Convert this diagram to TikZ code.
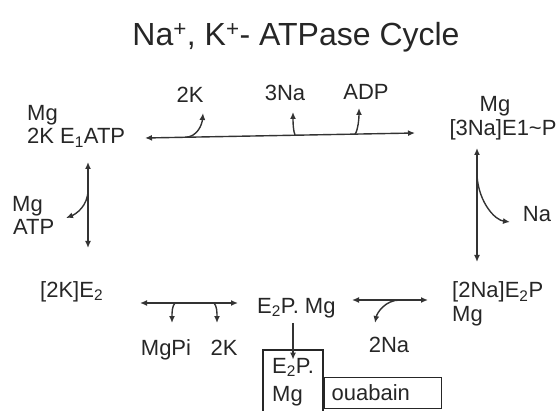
\documentclass[tikz,border=0pt]{standalone}
\usepackage{fontspec}
\setmainfont{Liberation Sans}
\usetikzlibrary{arrows.meta, fit}
\tikzset{
    species/.style={inner sep=0pt, text=black!85, font=\fontsize{22}{24}\selectfont},
    heading/.style={inner sep=0pt, text=black!85, font=\fontsize{32}{36}\selectfont},
    arrow/.style={line width=1.4pt, draw=black!80, -{Latex[length=7pt,width=6pt]}},
    twoway/.style={line width=1.4pt, draw=black!80, {Latex[length=7pt,width=6pt]}-{Latex[length=7pt,width=6pt]}},
    boxed/.style={draw=black!85, line width=2pt}
}

\begin{document}
\begin{tikzpicture}[x=1pt, y=-1pt]
        \useasboundingbox (0,0) rectangle (556,411);
        \node (title) [heading, anchor=base] at (296,46) {Na\textsuperscript{+}, K\textsuperscript{+}- ATPase Cycle};

        \node (mgtop) [species, anchor=base west] at (27,121) {Mg};
        \node (e1atp) [species, anchor=base west] at (27,144) {2K E\textsubscript{1}ATP};
        \node (mgright) [species, anchor=base] at (495,112) {Mg};
        \node (e1p) [species, anchor=base] at (503,136) {[3Na]E1\textasciitilde P};
        \node (ktop) [species, anchor=base] at (190,103) {2K};
        \node (na3) [species, anchor=base] at (285,101) {3Na};
        \node (adp) [species, anchor=base] at (366,100) {ADP};
        \node (naone) [species, anchor=base] at (537,222) {Na};
        \node (mgleft) [species, anchor=base west] at (12,212) {Mg};
        \node (atp) [species, anchor=base west] at (13,235) {ATP};
        \node (e2k) [species, anchor=base west] at (40,297) {[2K]E\textsubscript{2}};
        \node (mgpi) [species, anchor=base] at (166,355) {MgPi};
        \node (kbot) [species, anchor=base] at (224,355) {2K};
        \node (e2pmg) [species, anchor=base west] at (257,313) {E\textsubscript{2}P. Mg};
        \node (na2) [species, anchor=base] at (389,352) {2Na};
        \node (e2pna) [species, anchor=base west] at (452,298) {[2Na]E\textsubscript{2}P};
        \node (mgna) [species, anchor=base west] at (452,321) {Mg};

        \node (boxtop) [species, anchor=base west] at (272,373) {E\textsubscript{2}P.};
        \node (boxbot) [species, anchor=base west] at (272,401) {Mg};
        \node (boxe2p) [boxed, inner xsep=9pt, inner ysep=8pt, fit=(boxtop)(boxbot)] {};
        \node (ouabain) [species, draw=black!85, line width=1.2pt, anchor=north west, align=left, text width=103pt, inner xsep=7pt, minimum height=31pt] at (boxe2p.east |- 0,377) {ouabain};

        \coordinate (topL) at (145,138);
        \coordinate (topR) at (415,133);
        \path (topL) -- (topR) coordinate[pos=0.148] (bk) coordinate[pos=0.556] (bna) coordinate[pos=0.778] (badp);
        \coordinate (ktip) at (203,113);
        \coordinate (natip) at (293,112);
        \coordinate (adptip) at (359,108);
        \draw [twoway] (topL) -- (topR);
        \draw [arrow] (bk) .. controls +(12,0) and +(-1,12) .. (ktip);
        \draw [arrow] (bna) .. controls +(-2,-4) and +(0,10) .. (natip);
        \draw [arrow] (badp) .. controls +(3,-4) and +(0,10) .. (adptip);

        \coordinate (rvT) at (477,148);
        \coordinate (rvB) at (477,262);
        \coordinate (rvbr) at (477,176);
        \coordinate (natip1) at (510,222);
        \draw [twoway] (rvT) -- (rvB);
        \draw [arrow] (rvbr) .. controls +(2,27) and +(-15,-2) .. (natip1);

        \coordinate (lvT) at (88,162);
        \coordinate (lvB) at (88,248);
        \coordinate (lvbr) at (88,190);
        \coordinate (atptip) at (66,218);
        \draw [twoway] (lvT) -- (lvB);
        \draw [arrow] (lvbr) .. controls +(0,16) and +(10,-4) .. (atptip);

        \coordinate (blL) at (140,303);
        \coordinate (blR) at (238,303);
        \path (blL) -- (blR) coordinate[pos=0.357] (bpi) coordinate[pos=0.755] (bk2);
        \coordinate (pitip) at (172,323);
        \coordinate (k2tip) at (217,323);
        \draw [twoway] (blL) -- (blR);
        \draw [arrow] (bpi) .. controls +(-3,3) and +(0,-10) .. (pitip);
        \draw [arrow] (bk2) .. controls +(3,3) and +(0,-10) .. (k2tip);

        \coordinate (mrL) at (352,300);
        \coordinate (mrR) at (428,300);
        \path (mrL) -- (mrR) coordinate[pos=0.632] (bna2);
        \coordinate (na2tip) at (375,323);
        \draw [twoway] (mrL) -- (mrR);
        \draw [arrow] (bna2) .. controls +(-15,0) and +(2,-10) .. (na2tip);

        \draw [arrow, shorten <=5pt] (e2pmg.south -| boxtop.north) -- ([yshift=-2pt]boxtop.north);
    \end{tikzpicture}
\end{document}
